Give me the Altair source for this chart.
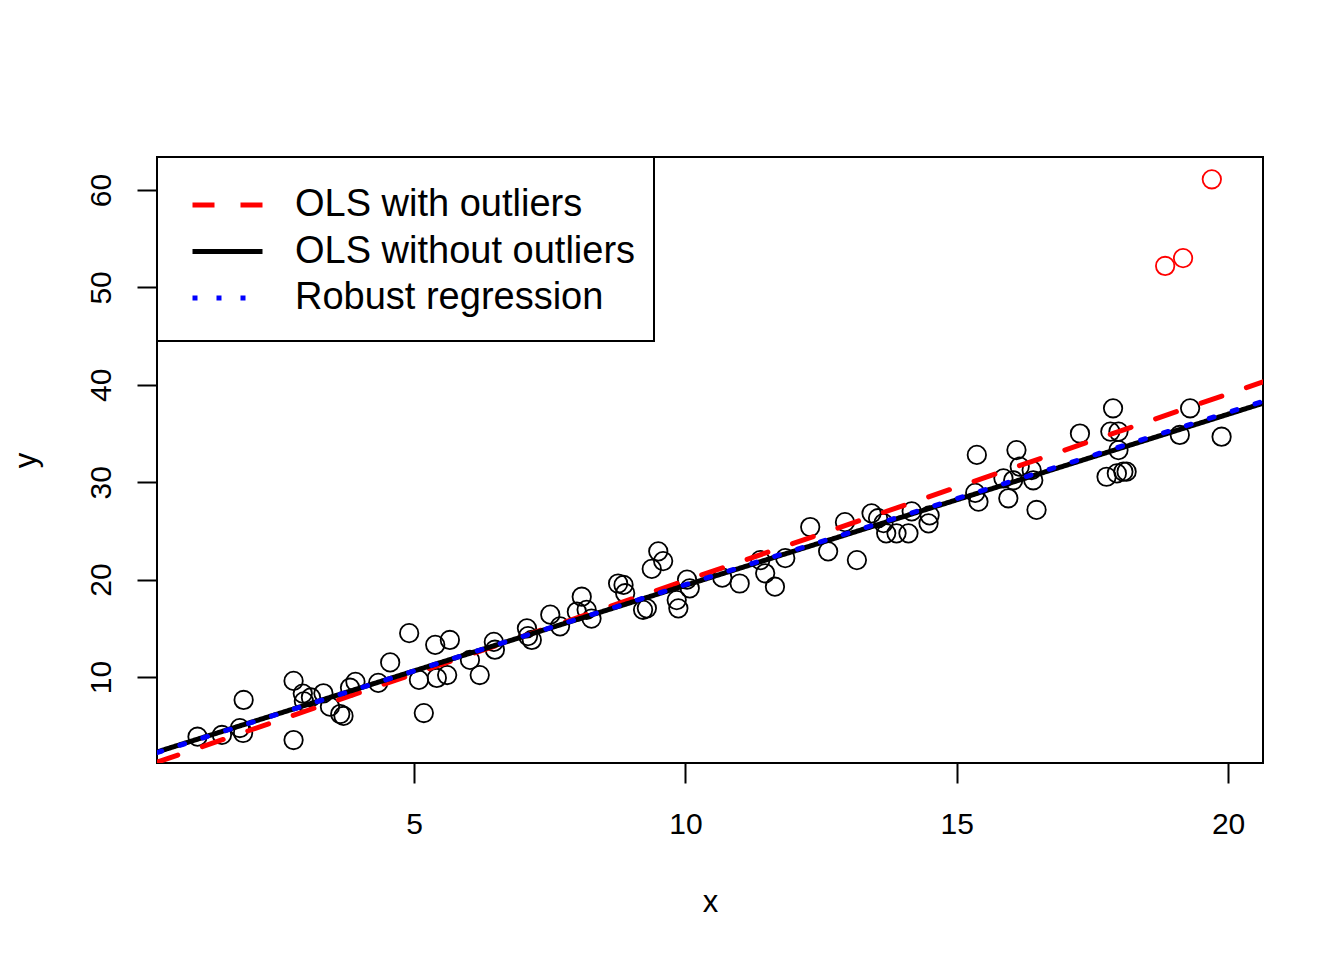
import altair as alt
import pandas as pd

# ---- data ----
x_pts = [1.01, 1.46, 1.86, 1.79, 1.85, 2.78, 2.78, 2.95, 2.97, 3.10, 3.33, 3.45, 3.64, 3.70, 3.82,
         3.92, 4.34, 4.56, 4.91, 5.18, 5.09, 5.39, 5.66, 5.42, 5.61, 6.03, 6.21, 6.47, 6.49,
         7.08, 7.10, 7.17, 7.51, 7.69, 8.00, 8.09, 8.18, 8.27, 8.76, 8.86, 8.89, 9.22, 9.29, 9.38,
         9.50, 9.59, 9.84, 9.87, 10.03, 10.08, 10.68, 11.00, 11.38, 11.47, 11.65, 11.84,
         12.30, 12.63, 12.94, 13.16, 13.43, 13.55, 13.65, 13.70, 13.89, 14.11, 14.17, 14.48, 14.50,
         15.34, 15.40, 15.37, 15.86, 15.95, 16.04, 16.10, 16.16, 16.38, 16.41, 16.47,
         17.27, 17.76, 17.88, 17.83, 17.98, 17.98, 17.95, 18.07, 18.13, 19.11, 19.30, 19.88]
y_pts = [3.87, 4.05, 7.64, 4.76, 4.25, 3.53, 9.6, 8.3, 7.5, 7.9, 8.33, 6.95, 6.2, 6.0, 8.9,
         9.5, 9.4, 11.5, 14.5, 6.3, 9.7, 13.3, 13.8, 9.9, 10.2, 11.75, 10.2, 13.6, 12.8,
         15.0, 14.2, 13.8, 16.4, 15.2, 16.7, 18.24, 16.9, 16.0, 19.6, 19.45, 18.6, 16.9, 17.05, 21.1,
         22.9, 21.9, 17.9, 17.05, 20.0, 19.1, 20.2, 19.6, 22.0, 20.65, 19.27, 22.2,
         25.4, 22.9, 25.9, 22.0, 26.8, 26.3, 25.8, 24.75, 24.75, 24.75, 27.0, 25.78, 26.6,
         28.9, 28.0, 32.8, 30.4, 28.35, 30.2, 33.3, 31.6, 31.25, 30.2, 27.15,
         35.0, 30.56, 37.59, 35.2, 35.2, 33.3, 30.9, 31.08, 31.08, 34.85, 37.59, 34.67]

out_x = [18.84, 19.17, 19.70]
out_y = [52.2, 53.0, 61.1]

models = ["OLS with outliers", "OLS without outliers", "Robust regression"]
intercepts = [0.745, 1.84, 1.78]
slopes = [1.916, 1.757, 1.769]
line_colors = ["#FF0000", "#000000", "#0000FF"]
line_dashes = [[22, 26], [1, 0], [5, 19]]

x_ticks = [5, 10, 15, 20]
y_ticks = [10, 20, 30, 40, 50, 60]

x_dom = [0.2635, 20.643]
y_dom = [1.17, 63.39]

FONT = "Liberation Sans"

pts = pd.DataFrame({"x": x_pts, "y": y_pts})
outs = pd.DataFrame({"x": out_x, "y": out_y})

rows = []
for m, a, b in zip(models, intercepts, slopes):
    for xv in x_dom:
        rows.append({"model": m, "x": xv, "y": a + b * xv})
lines = pd.DataFrame(rows)

xs = alt.Scale(domain=x_dom, nice=False, zero=False)
ys = alt.Scale(domain=y_dom, nice=False, zero=False)

x_axis = alt.Axis(values=x_ticks, grid=False, domain=False, tickSize=20, tickWidth=2,
                  tickColor="black", labelFontSize=30, labelFont=FONT, labelColor="black",
                  labelPadding=26, title="x", titleFont=FONT, titleFontSize=31,
                  titleFontWeight="normal", titleColor="black", titleY=148,
                  titleBaseline="alphabetic")
y_axis = alt.Axis(values=y_ticks, grid=False, domain=False, tickSize=20, tickWidth=2,
                  tickColor="black", labelFontSize=30, labelFont=FONT, labelColor="black",
                  labelAngle=270, labelAlign="center", labelBaseline="bottom",
                  labelPadding=21, title="y", titleFont=FONT, titleFontSize=31,
                  titleFontWeight="normal", titleColor="black", titleAngle=270,
                  titleX=-122, titleY=303, titleAlign="center", titleBaseline="alphabetic")

# legend frame (drawn as a plain rectangle in the top-left corner of the plot)
legend_box = alt.Chart(pd.DataFrame({"box": [0]})).mark_rect(
    fill="white", stroke="black", strokeWidth=2
).encode(
    x=alt.value(0), x2=alt.value(497), y=alt.value(0), y2=alt.value(184)
)

base_pts = alt.Chart(pts).mark_point(shape="circle", filled=False, size=340,
                                     strokeWidth=1.8, color="black", opacity=1).encode(
    x=alt.X("x:Q", scale=xs, axis=x_axis),
    y=alt.Y("y:Q", scale=ys, axis=y_axis),
)
out_pts = alt.Chart(outs).mark_point(shape="circle", filled=False, size=340,
                                     strokeWidth=1.8, color="#FF0000", opacity=1).encode(
    x=alt.X("x:Q", scale=xs),
    y=alt.Y("y:Q", scale=ys),
)
line_layer = alt.Chart(lines).mark_line(strokeWidth=5, strokeCap="round", clip=True).encode(
    x=alt.X("x:Q", scale=xs),
    y=alt.Y("y:Q", scale=ys),
    color=alt.Color("model:N", scale=alt.Scale(domain=models, range=line_colors),
                    legend=alt.Legend(title=None)),
    strokeDash=alt.StrokeDash("model:N", scale=alt.Scale(domain=models, range=line_dashes),
                              legend=alt.Legend(title=None)),
)

chart = alt.layer(legend_box, base_pts, out_pts, line_layer).properties(
    width=1106, height=606,
    padding={"left": 149, "top": 149, "right": 65, "bottom": 170},
    autosize=alt.AutoSizeParams(type="none"),
    background="white",
).configure_view(
    stroke="black", strokeWidth=2
).configure_legend(
    orient="none", legendX=50.5, legendY=28, padding=0, strokeColor="transparent",
    fillColor="transparent", symbolType="M-2,0L2,0", symbolSize=1225,
    symbolStrokeWidth=5, labelOffset=47.5, labelFontSize=38, labelFont=FONT,
    labelColor="black", rowPadding=7.5, labelLimit=0,
)

chart.save("out.html", embed_options={"renderer": "svg", "actions": False})
